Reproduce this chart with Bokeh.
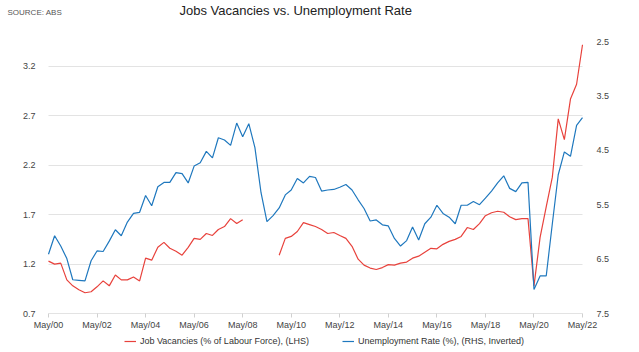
from datetime import datetime
from bokeh.plotting import figure
from bokeh.models import (Range1d, LinearAxis, FixedTicker, DatetimeTickFormatter,
                          Legend, LegendItem, ColumnDataSource, Label)
from bokeh.embed import file_html
from bokeh.resources import INLINE

# ---------------- data (quarterly, May 2000 - May 2022) ----------------
NaN = float("nan")
job_vacancies = [
    1.23, 1.20, 1.21, 1.04, 0.98, 0.94, 0.91, 0.92, 0.97, 1.03,
    0.98, 1.09, 1.04, 1.04, 1.07, 1.03, 1.26, 1.24, 1.37, 1.42,
    1.36, 1.33, 1.29, 1.37, 1.46, 1.45, 1.51, 1.49, 1.55, 1.58,
    1.66, 1.61, 1.65, NaN, NaN, NaN, NaN, NaN, 1.29, 1.46,
    1.48, 1.53, 1.62, 1.60, 1.58, 1.55, 1.51, 1.52, 1.49, 1.46,
    1.38, 1.25, 1.19, 1.16, 1.145, 1.165, 1.195, 1.19, 1.21, 1.22,
    1.26, 1.28, 1.32, 1.36, 1.355, 1.40, 1.43, 1.45, 1.48, 1.57,
    1.55, 1.61, 1.69, 1.72, 1.735, 1.725, 1.68, 1.65, 1.66, 1.66,
    0.98, 1.47, 1.78, 2.08, 2.67, 2.46, 2.87, 3.02, 3.42,
]
unemployment = [
    6.41, 6.07, 6.26, 6.49, 6.88, 6.89, 6.90, 6.53, 6.35, 6.36,
    6.17, 5.96, 6.07, 5.82, 5.66, 5.64, 5.33, 5.52, 5.17, 5.09,
    5.09, 4.91, 4.93, 5.10, 4.79, 4.73, 4.52, 4.64, 4.27, 4.31,
    4.41, 4.00, 4.25, 4.01, 4.45, 5.28, 5.81, 5.70, 5.56, 5.32,
    5.23, 5.02, 5.10, 4.98, 5.00, 5.25, 5.23, 5.22, 5.18, 5.13,
    5.23, 5.41, 5.57, 5.80, 5.78, 5.87, 5.89, 6.12, 6.26, 6.16,
    5.91, 6.15, 5.85, 5.73, 5.51, 5.66, 5.73, 5.85, 5.51, 5.51,
    5.44, 5.50, 5.38, 5.25, 5.10, 4.97, 5.20, 5.26, 5.10, 5.09,
    7.06, 6.81, 6.81, 5.85, 4.95, 4.53, 4.61, 4.04, 3.90,
]
# quarter dates: May, Aug, Nov, Feb ... starting May 2000
dates = [datetime(2000 + (4 + 3 * i) // 12, (4 + 3 * i) % 12 + 1, 1)
         for i in range(len(unemployment))]
x_tick_years = [2000, 2002, 2004, 2006, 2008, 2010, 2012, 2014, 2016, 2018, 2020, 2022]
left_ticks = [0.7, 1.2, 1.7, 2.2, 2.7, 3.2]
right_ticks = [2.5, 3.5, 4.5, 5.5, 6.5, 7.5]
title_text = "Jobs Vacancies vs. Unemployment Rate"
source_text = "SOURCE: ABS"
series_names = ["Job Vacancies (% of Labour Force), (LHS)",
                "Unemployment Rate (%), (RHS, Inverted)"]

# ---------------- layout constants (pixels) ----------------
W, H = 639, 352
PL, PR, PT, PB = 48, 582, 41, 313      # plot-area edges in the picture
FONT = "Liberation Sans"
RED = "#e8423c"
BLUE = "#1f78be"
TICK_C = "#444444"

# ranges: the frame covers the whole canvas, the data area is PL..PR x PT..PB
t0 = dates[0].timestamp() * 1000
t1 = dates[-1].timestamp() * 1000
ms_per_px = (t1 - t0) / (PR - PL)
x_start = t0 - PL * ms_per_px
x_end = t1 + (W - PR) * ms_per_px

l_lo, l_hi = left_ticks[0], 3.453          # left axis value at PB / PT
l_per_px = (l_hi - l_lo) / (PB - PT)
y_start = l_lo - (H - PB) * l_per_px
y_end = l_hi + PT * l_per_px

r_bot, r_top = right_ticks[-1], right_ticks[0]   # inverted right axis
r_per_px = (r_bot - r_top) / (PB - PT)
ry_start = r_bot + (H - PB) * r_per_px
ry_end = r_top - PT * r_per_px

src = ColumnDataSource(dict(date=dates, jv=job_vacancies, ur=unemployment))

p = figure(width=W, height=H, x_axis_type="datetime",
           output_backend="svg", toolbar_location=None,
           x_range=Range1d(x_start, x_end),
           y_range=Range1d(y_start, y_end),
           min_border_left=0, min_border_right=0,
           min_border_top=0, min_border_bottom=0)
p.outline_line_color = None
p.background_fill_color = "white"
p.border_fill_color = "white"

p.extra_y_ranges = {"ur": Range1d(start=ry_start, end=ry_end)}

r_red = p.line("date", "jv", source=src, color=RED, line_width=1.2)
r_blue = p.line("date", "ur", source=src, color=BLUE, line_width=1.2, y_range_name="ur")

# x axis, drawn on the 0.7 line
xa = p.xaxis[0]
xa.fixed_location = left_ticks[0]
xa.ticker = FixedTicker(ticks=[datetime(y, 5, 1).timestamp() * 1000 for y in x_tick_years],
                        minor_ticks=[])
fmt = "%b/%y"
xa.formatter = DatetimeTickFormatter(microseconds=fmt, milliseconds=fmt, seconds=fmt,
                                     minsec=fmt, minutes=fmt, hourmin=fmt, hours=fmt,
                                     days=fmt, months=fmt, years=fmt)
xa.axis_line_color = None
xa.major_tick_line_color = "#d0d0d0"
xa.major_tick_out = 4
xa.major_tick_in = 0
xa.minor_tick_line_color = None
xa.major_label_standoff = 2
xa.major_label_text_font = FONT
xa.major_label_text_font_size = "9px"
xa.major_label_text_color = TICK_C

# left axis, drawn at the first date
ya = p.yaxis[0]
ya.fixed_location = t0
ya.ticker = FixedTicker(ticks=left_ticks, minor_ticks=[])
ya.axis_line_color = None
ya.major_tick_line_color = None
ya.minor_tick_line_color = None
ya.major_label_standoff = 7
ya.major_label_text_font = FONT
ya.major_label_text_font_size = "9px"
ya.major_label_text_color = TICK_C

# right axis (inverted), drawn at the last date
ra = LinearAxis(y_range_name="ur", ticker=FixedTicker(ticks=right_ticks, minor_ticks=[]))
ra.fixed_location = t1
ra.axis_line_color = None
ra.major_tick_line_color = None
ra.minor_tick_line_color = None
ra.major_label_standoff = 8
ra.major_label_text_font = FONT
ra.major_label_text_font_size = "9px"
ra.major_label_text_color = TICK_C
p.add_layout(ra, "right")

p.xgrid.visible = False
g = p.ygrid[0]
g.ticker = ya.ticker
g.grid_line_color = "#e3e3e3"
g.grid_line_width = 1
if "cross_bounds" in g.properties():
    g.cross_bounds = (t0, t1)
else:
    g.visible = False
    p.segment(x0=[dates[0]] * len(left_ticks), x1=[dates[-1]] * len(left_ticks),
              y0=left_ticks, y1=left_ticks, line_color="#e3e3e3", line_width=1,
              level="underlay")

# title & source
p.add_layout(Label(x=179, y=H - 10, x_units="screen", y_units="screen",
                   text=title_text,
                   text_font=FONT, text_font_size="13px", text_color="#222222",
                   text_baseline="middle", text_align="left"))
p.add_layout(Label(x=7, y=H - 12, x_units="screen", y_units="screen",
                   text=source_text,
                   text_font=FONT, text_font_size="8px", text_color="#555555",
                   text_baseline="middle", text_align="left"))

legend = Legend(items=[
    LegendItem(label=series_names[0], renderers=[r_red]),
    LegendItem(label=series_names[1], renderers=[r_blue]),
], orientation="horizontal", location=(124, H - 347))
legend.padding = 0
legend.margin = 0
legend.spacing = 33
legend.glyph_width = 12
legend.glyph_height = 12
legend.label_height = 12
legend.label_standoff = 4
legend.border_line_color = None
legend.background_fill_alpha = 0
legend.label_text_font = FONT
legend.label_text_font_size = "9px"
legend.label_text_color = "#333333"
p.add_layout(legend, "center")

open("out.html", "w").write(file_html(p, INLINE))
